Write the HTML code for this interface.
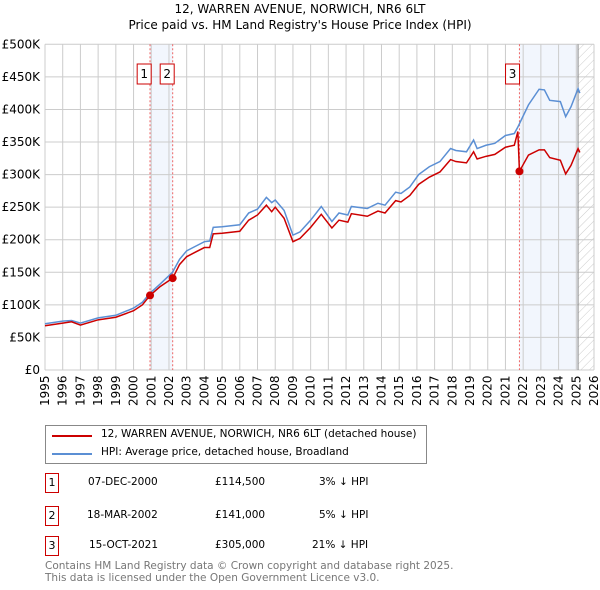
<!DOCTYPE html>
<html><head><meta charset="utf-8"><style>
body{margin:0;background:#fff;font-family:"DejaVu Sans","Liberation Sans",sans-serif;}
#wrap{position:relative;width:600px;height:590px;overflow:hidden}
.t{position:absolute;font-size:12px;color:#000;white-space:nowrap}
.bx{position:absolute;width:12px;height:18px;border:1px solid #c00;font-size:11px;text-align:center;line-height:18px}
</style></head><body><div id="wrap">
<div class="t" style="left:0;width:600px;text-align:center;top:2px;font-size:12px">12, WARREN AVENUE, NORWICH, NR6 6LT</div>
<div class="t" style="left:0;width:600px;text-align:center;top:18px;font-size:12px">Price paid vs. HM Land Registry's House Price Index (HPI)</div>
<svg id="ch" width="600" height="420" style="position:absolute;left:0;top:0"></svg>
<div style="position:absolute;left:45px;top:425px;width:380px;height:37px;border:1px solid #888">
<div style="position:absolute;left:6px;top:9px;width:40px;height:2px;background:#c00"></div>
<div class="t" style="left:55px;top:2px;font-size:10.5px">12, WARREN AVENUE, NORWICH, NR6 6LT (detached house)</div>
<div style="position:absolute;left:6px;top:27px;width:40px;height:2px;background:#5b8fd4"></div>
<div class="t" style="left:55px;top:20px;font-size:10.5px">HPI: Average price, detached house, Broadland</div>
</div>
<div class="bx" style="left:45px;top:473px">1</div>
<div class="t" style="left:88px;top:476px;font-size:10.5px">07-DEC-2000</div>
<div class="t" style="left:215px;top:476px;font-size:10.5px">£114,500</div>
<div class="t" style="left:319px;top:476px;font-size:10.5px">3% ↓ HPI</div>
<div class="bx" style="left:45px;top:506px">2</div>
<div class="t" style="left:87px;top:509px;font-size:10.5px">18-MAR-2002</div>
<div class="t" style="left:215px;top:509px;font-size:10.5px">£141,000</div>
<div class="t" style="left:319px;top:509px;font-size:10.5px">5% ↓ HPI</div>
<div class="bx" style="left:45px;top:536px">3</div>
<div class="t" style="left:89px;top:539px;font-size:10.5px">15-OCT-2021</div>
<div class="t" style="left:215px;top:539px;font-size:10.5px">£305,000</div>
<div class="t" style="left:312px;top:539px;font-size:10.5px">21% ↓ HPI</div>
<div class="t" style="left:45px;top:560px;font-size:10.5px;color:#777">Contains HM Land Registry data © Crown copyright and database right 2025.</div>
<div class="t" style="left:45px;top:572px;font-size:10.5px;color:#777">This data is licensed under the Open Government Licence v3.0.</div>
</div>
<script>
const hpiYears=[1995,1996,1996.5,1997,1998,1999,2000,2000.5,2000.93,2001.5,2002.2,2002.6,2003,2003.5,2004,2004.3,2004.5,2005,2006,2006.5,2007,2007.5,2007.8,2008,2008.5,2009,2009.4,2010,2010.6,2011.2,2011.6,2012.1,2012.3,2013.2,2013.8,2014.2,2014.8,2015.1,2015.6,2016.1,2016.7,2017.3,2017.9,2018.2,2018.8,2019.2,2019.4,2019.9,2020.4,2021,2021.5,2021.7,2022.3,2022.9,2023.2,2023.5,2024.1,2024.4,2024.7,2025.1,2025.2];
const hpiValues=[71,75,76,72,80,84,95,104,118,132,150,170,183,190,197,198,219,220,223,241,247,265,257,261,245,207,212,230,251,228,241,238,251,248,256,253,273,271,281,300,312,320,340,337,335,353,340,345,348,360,363,373,407,431,430,414,412,389,404,432,425];
const paidYears=[1995,1996,1996.5,1997,1998,1999,2000,2000.5,2000.93,2001.5,2002.21,2002.6,2003,2003.5,2004,2004.3,2004.5,2005,2006,2006.5,2007,2007.5,2007.8,2008,2008.5,2009,2009.4,2010,2010.6,2011.2,2011.6,2012.1,2012.3,2013.2,2013.8,2014.2,2014.8,2015.1,2015.6,2016.1,2016.7,2017.3,2017.9,2018.2,2018.8,2019.2,2019.4,2019.9,2020.4,2021,2021.5,2021.7,2021.79,2022.3,2022.9,2023.2,2023.5,2024.1,2024.4,2024.7,2025.1,2025.2];
const paidValues=[68,72,74,69,77,81,91,100,114.5,128,141,162,174,181,188,188,209,210,213,230,238,253,243,250,233,197,202,219,239,218,230,227,240,236,244,241,260,258,268,285,296,304,323,320,318,335,324,328,331,342,345,366,305,330,338,338,326,322,301,314,340,334];
const saleYears=[2000.93,2002.21,2021.79];
const saleValues=[114.5,141,305];
const yTicks=[0,50,100,150,200,250,300,350,400,450,500];
const xTicks=[];for(let y=1995;y<=2026;y++)xTicks.push(y);
const X0=45,X1=594,Y0=370,Y1=44.3;
const xs=y=>X0+(y-1995)/31*(X1-X0);
const ys=v=>Y0-v/500*(Y0-Y1);
const FF='DejaVu Sans, Liberation Sans, sans-serif';
const svg=document.getElementById('ch');const NS='http://www.w3.org/2000/svg';
function mk(t,a,p){const e=document.createElementNS(NS,t);for(const k in a)e.setAttribute(k,a[k]);(p||svg).appendChild(e);return e;}
const defs=mk('defs',{});const pat=mk('pattern',{id:'h',width:6,height:6,patternUnits:'userSpaceOnUse',patternTransform:'rotate(45)'},defs);mk('line',{x1:0,y1:0,x2:0,y2:6,stroke:'#ccc','stroke-width':1},pat);
let r=mk('rect',{x:xs(2000.93),y:Y1,width:xs(2002.21)-xs(2000.93),height:Y0-Y1,fill:'#f2f6fd'});

r=mk('rect',{x:xs(2021.79),y:Y1,width:xs(2025.1)-xs(2021.79),height:Y0-Y1,fill:'#f2f6fd'});

r=mk('rect',{x:xs(2025.1),y:Y1,width:X1-xs(2025.1),height:Y0-Y1,fill:'url(#h)'});

xTicks.forEach(y=>{const l=mk('line',{x1:xs(y),x2:xs(y),y1:Y1,y2:Y0,stroke:'#ccc'});

const t=mk('text',{x:0,y:0,transform:`translate(${xs(y)+4},${Y0+36}) rotate(-90)`,'font-size':12,'font-family':FF});t.textContent=y;
});
yTicks.forEach(v=>{const l=mk('line',{x1:X0,x2:X1,y1:ys(v),y2:ys(v),stroke:'#ccc'});

const t=mk('text',{x:40,y:ys(v)+4,'text-anchor':'end','font-size':12,'font-family':FF});t.textContent=v?('£'+v+'K'):'£0';
});
mk('line',{x1:xs(2025.1),x2:xs(2025.1),y1:Y1,y2:Y0,stroke:'#888'});
saleYears.forEach((y,i)=>{const l=mk('line',{x1:xs(y),x2:xs(y),y1:Y1,y2:Y0,stroke:'#e66','stroke-dasharray':'2,2'});
});
const badges=[[2000.6,'1'],[2001.9,'2'],[2021.4,'3']];
badges.forEach(b=>{const g=mk('g',{});
mk('rect',{x:xs(b[0])-7,y:64,width:14,height:20,fill:'#fff',stroke:'#c00'},g);
const t=mk('text',{x:xs(b[0]),y:78,'text-anchor':'middle','font-size':12,'font-family':FF},g);t.textContent=b[1];});
let p=mk('path',{d:hpiYears.map((y,i)=>(i?'L':'M')+xs(y)+','+ys(hpiValues[i])).join(''),fill:'none',stroke:'#5b8fd4','stroke-width':1.5});

p=mk('path',{d:paidYears.map((y,i)=>(i?'L':'M')+xs(y)+','+ys(paidValues[i])).join(''),fill:'none',stroke:'#c00','stroke-width':1.5});

saleYears.forEach((y,i)=>{const c=mk('circle',{cx:xs(y),cy:ys(saleValues[i]),r:4,fill:'#c00'});
});
</script></body></html>
